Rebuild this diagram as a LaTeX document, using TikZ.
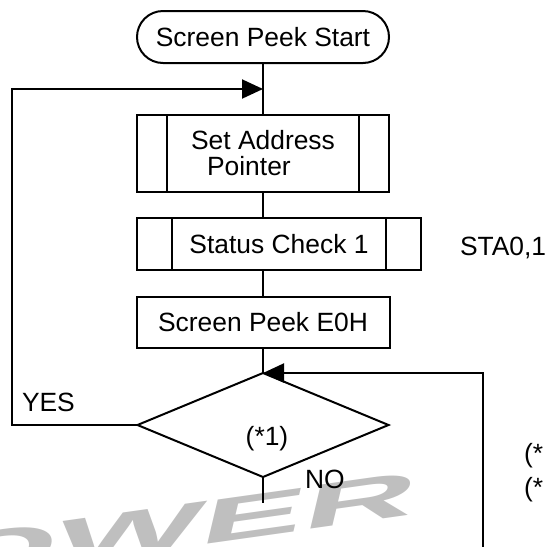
\documentclass[tikz,border=0pt]{standalone}
\usepackage{fontspec}
\setmainfont{Liberation Sans}
\usetikzlibrary{shapes.geometric,arrows.meta}

\begin{document}
\begin{tikzpicture}[x=0.5pt,y=-0.5pt,line width=1pt,>={Triangle[length=10.5pt,width=9.5pt]},
	every node/.style={inner sep=0pt,outer sep=0pt,font=\fontsize{13.2}{13}\selectfont},
	term/.style={draw,rounded corners=13pt,minimum width=126pt,minimum height=26pt},
	box/.style={draw,rectangle},
	sub/.style={box,path picture={\draw ([xshift=#1]path picture bounding box.north west) -- ([xshift=#1]path picture bounding box.south west) ([xshift=-#1]path picture bounding box.north east) -- ([xshift=-#1]path picture bounding box.south east);}},
	dec/.style={draw,diamond,minimum width=125.5pt,minimum height=52pt},
	wmark/.style={text=black!25,font=\fontsize{33}{33}\bfseries\selectfont}]
	\useasboundingbox (0,0) rectangle (547,547);
	% watermark
	\node[wmark,cm={2.327,0.327,0.23,0.97,(0,0)}] (power) at (126,534) {POWER};
	% flow
	\node[term] (start) at (263,37) {Screen Peek Start};
	\node[sub=15pt,minimum width=126pt,minimum height=38.5pt,align=left] (setadr) at (263,153.5) {Set Address\\\hspace*{8pt}Pointer};
	\node[sub=17.5pt,minimum width=142pt,minimum height=26pt] (stat) at (279,244) {Status Check 1};
	\node[box,minimum width=126.5pt,minimum height=25.5pt] (peek) at (263,322.5) {Screen Peek E0H};
	\node[dec] (cond) at (263,425) {};
	\node[anchor=base] (condtxt) at (267,445) {(*1)};
	\coordinate (retop) at (263,89);
	\coordinate (yesbend) at (12,425);
	\coordinate (loopend) at (483,547);
	\coordinate (noend) at (263,503);
	\draw (start) -- (setadr);
	\draw (setadr.south) -- (setadr.south |- stat.north);
	\draw (stat.south -| peek.north) -- (peek.north);
	\draw (peek) -- (cond);
	\draw[->] (cond.west) -- (yesbend) |- (retop);
	\draw[->] (loopend) |- (cond.north);
	\draw (cond.south) -- (noend);
	% labels
	\node[anchor=base west] (yes) at (22,411) {YES};
	\node[anchor=base west] (no) at (305,488) {NO};
	\node[anchor=base west] (sta) at (460,255) {STA0,1};
	\node[anchor=base west] (note1) at (524,462) {(*};
	\node[anchor=base west] (note2) at (524,496) {(*};
\end{tikzpicture}
\end{document}
